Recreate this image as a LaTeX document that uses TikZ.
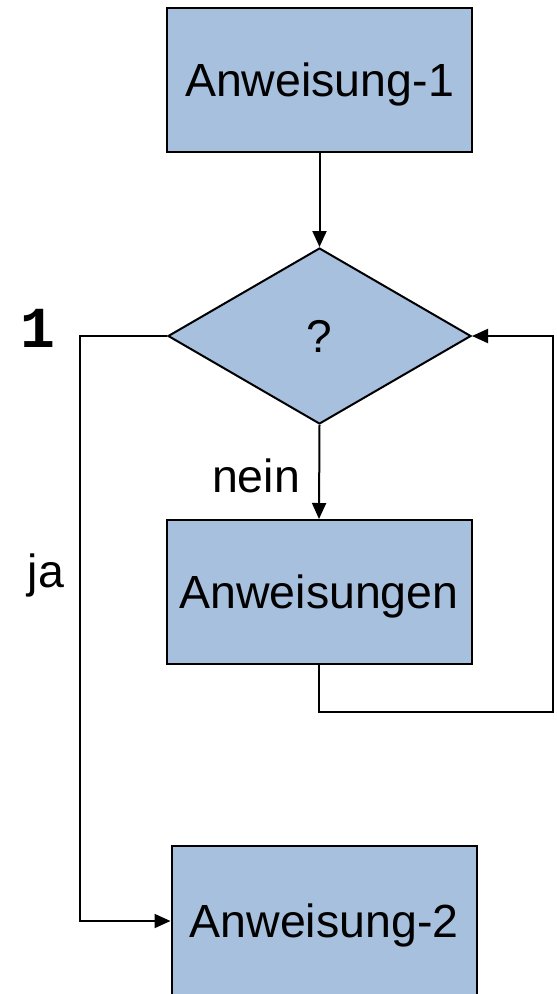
\documentclass[tikz,border=0pt]{standalone}
\usepackage{fontspec}
\setmainfont{Liberation Sans}
\newfontfamily\monobold{Liberation Mono}[BoldFont=* Bold]
\usetikzlibrary{arrows.meta,shapes.geometric}
\definecolor{boxblue}{RGB}{167,192,222}

\begin{document}
\begin{tikzpicture}[x=1pt,y=-1pt,>={Triangle[length=16pt,width=14pt]},line width=2pt,line join=miter,
  block/.style={draw,fill=boxblue,minimum width=305pt,minimum height=144pt,inner sep=0pt,text depth=0pt,font=\fontsize{46.5}{50}\selectfont},
  query/.style={diamond,draw,fill=boxblue,minimum width=303pt,minimum height=176pt,inner sep=0pt,text depth=0pt,font=\fontsize{46}{50}\selectfont},
  tag/.style={font=\fontsize{46.5}{50}\selectfont,inner sep=0pt}]
\useasboundingbox (0,0) rectangle (557,994);
\clip (0,0) rectangle (557,994);
\node[block] (a1) at (319.5,80) {Anweisung-1};
\node[query] (q) at (319.5,336) {?};
\node[block] (body) at (319,592) {Anweisungen};
\node[block,minimum height=150pt] (a2) at (324,921) {Anweisung-2};
\coordinate (back1) at (553,712);
\coordinate (jump1) at (80,336);
\draw[->] (a1.south) -- (q.north);
\draw[->] (q.south) -- (body.north);
\draw[->] (body.south) |- (back1) |- (q.east);
\draw[->] (q.west) -- (jump1) |- (a2.west);
\node[tag] (nein) at (256,476) {nein};
\node[tag] (ja) at (46,575) {ja};
\node[inner sep=0pt,font=\monobold\bfseries\fontsize{58}{62}\selectfont] (one) at (38,328) {1};
\end{tikzpicture}
\end{document}
